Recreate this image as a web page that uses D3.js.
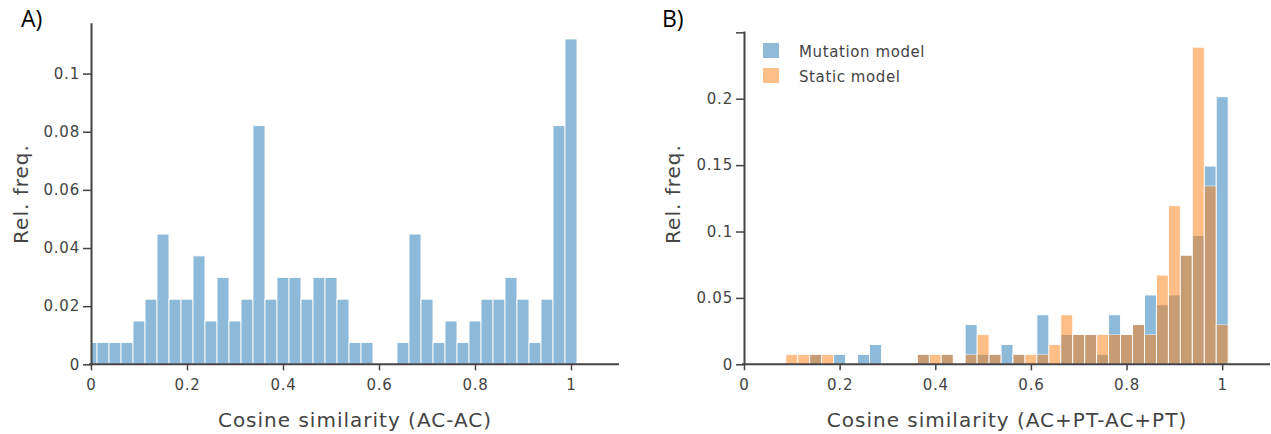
<!DOCTYPE html>
<html><head><meta charset="utf-8">
<script src="https://cdn.jsdelivr.net/npm/d3@7"></script>
<style>body{margin:0;background:#fff}</style>
</head><body>
<svg id="c" width="1271" height="434"></svg>
<script>
// Bin centers (bin width 0.025)
const binCenters = [0,0.025,0.05,0.075,0.1,0.125,0.15,0.175,0.2,0.225,0.25,0.275,0.3,0.325,0.35,0.375,0.4,0.425,0.45,0.475,0.5,0.525,0.55,0.575,0.6,0.625,0.65,0.675,0.7,0.725,0.75,0.775,0.8,0.825,0.85,0.875,0.9,0.925,0.95,0.975,1.0];
const binWidth = 0.025;
// Panel A: Cosine similarity (AC-AC), relative frequency
const relFreqA = [0.0075,0.0075,0.0075,0.0075,0.0149,0.0224,0.0448,0.0224,0.0224,0.0373,0.0149,0.0299,0.0149,0.0224,0.0821,0.0224,0.0299,0.0299,0.0224,0.0299,0.0299,0.0224,0.0075,0.0075,0,0,0.0075,0.0448,0.0224,0.0075,0.0149,0.0075,0.0149,0.0224,0.0224,0.0299,0.0224,0.0075,0.0224,0.0821,0.1119];
// Panel B: Mutation model / Static model
const relFreqMutation = [0,0,0,0,0,0,0.0075,0,0.0075,0,0.0075,0.0149,0,0,0,0.0075,0,0.0075,0,0.0299,0.0075,0.0075,0.0149,0.0075,0,0.0373,0,0.0224,0.0224,0.0224,0.0075,0.0373,0.0224,0.0299,0.0522,0.0448,0.0522,0.0821,0.0970,0.1493,0.2015];
const relFreqStatic = [0,0,0,0,0.0075,0.0075,0.0075,0.0075,0,0,0,0,0,0,0,0.0075,0.0075,0.0075,0,0.0075,0.0224,0.0075,0,0.0075,0.0075,0.0075,0.0149,0.0373,0.0224,0.0224,0.0224,0.0224,0.0224,0.0299,0.0224,0.0672,0.1194,0.0821,0.2388,0.1343,0.0299];
const seriesNames = ["Mutation model","Static model"];
const xTicks = [0,0.2,0.4,0.6,0.8,1];
const xTickLabels = ["0","0.2","0.4","0.6","0.8","1"];
const yTicksA = [0,0.02,0.04,0.06,0.08,0.1];
const yTickLabelsA = ["0","0.02","0.04","0.06","0.08","0.1"];
const yTicksB = [0,0.05,0.1,0.15,0.2,0.25];
const yTickLabelsB = ["0","0.05","0.1","0.15","0.2",""];
const xTitleA = "Cosine similarity (AC-AC)";
const xTitleB = "Cosine similarity (AC+PT-AC+PT)";
const yTitle = "Rel. freq.";

const BLUE = "#1f77b4", ORANGE = "#ff7f0e";
const svg = d3.select("#c");
const FONT = "'DejaVu Sans', Verdana, sans-serif";

function panel(cfg){
  const x = d3.scaleLinear().domain([0,1.1]).range([cfg.x0, cfg.x1]);
  const y = d3.scaleLinear().domain([0,cfg.ymax]).range([cfg.y0, cfg.y1]);
  const g = svg.append("g");
  const clipId = "clip"+cfg.id;
  svg.append("clipPath").attr("id",clipId).append("rect")
    .attr("x",cfg.x0).attr("y",cfg.y1).attr("width",cfg.x1-cfg.x0).attr("height",cfg.y0-cfg.y1);
  const plot = g.append("g").attr("clip-path",`url(#${clipId})`);
  cfg.series.forEach(s=>{
    plot.append("g").attr("opacity",0.5).selectAll("rect")
      .data(binCenters.map((c,i)=>({c, v:s.values[i]})).filter(d=>d.v>0))
      .join("rect")
      .attr("x", d=>x(d.c-binWidth/2))
      .attr("width", d=>x(d.c+binWidth/2)-x(d.c-binWidth/2))
      .attr("y", d=>y(d.v))
      .attr("height", d=>y(0)-y(d.v))
      .attr("fill", s.color)
      .attr("stroke","#fff").attr("stroke-width",0.9);
  });
  // axes
  const xa = g.append("g").attr("transform",`translate(0,${cfg.y0})`)
    .call(d3.axisBottom(x).tickValues(xTicks).tickFormat((d,i)=>xTickLabels[i]).tickSize(6).tickPadding(9).tickSizeOuter(0));
  const ya = g.append("g").attr("transform",`translate(${cfg.x0},0)`)
    .call(d3.axisLeft(y).tickValues(cfg.yTicks).tickFormat((d,i)=>cfg.yLabels[i]).tickSize(8).tickPadding(3).tickSizeOuter(0));
  [xa,ya].forEach(a=>{
    a.select(".domain").attr("stroke","#444").attr("stroke-width",2);
    a.selectAll(".tick line").attr("stroke","#444").attr("stroke-width",1.5);
    a.selectAll("text").attr("fill","#444").style("font-family",FONT).style("font-size","15px").style("letter-spacing","0.8px");
  });
  xa.select(".domain").attr("d",`M${cfg.x0-2},0H${cfg.x1}`);
  g.append("text").attr("x",(cfg.x0+cfg.x1)/2).attr("y",427).attr("text-anchor","middle")
    .attr("fill","#444").style("font-family",FONT).style("font-size","20px").style("letter-spacing","1px").text(cfg.xTitle);
  g.append("text").attr("transform",`translate(${cfg.yTitleX},194) rotate(-90)`).attr("text-anchor","middle")
    .attr("fill","#444").style("font-family",FONT).style("font-size","20px").style("letter-spacing","1px").text(yTitle);
  g.append("text").attr("x",cfg.labelX).attr("y",27).attr("fill","#000")
    .style("font-family","'Open Sans', sans-serif").style("font-size","23px").text(cfg.label);
  return {x,y,g};
}

panel({id:"A", x0:91, x1:619, y0:364.3, y1:22.7, ymax:0.1175, yTicks:yTicksA, yLabels:yTickLabelsA,
  series:[{values:relFreqA, color:BLUE}], xTitle:xTitleA, yTitleX:28, label:"A)", labelX:21});
const pB = panel({id:"B", x0:744, x1:1270, y0:364.3, y1:31, ymax:0.251, yTicks:yTicksB, yLabels:yTickLabelsB,
  series:[{values:relFreqMutation, color:BLUE},{values:relFreqStatic, color:ORANGE}], xTitle:xTitleB, yTitleX:680, label:"B)", labelX:662});

// legend
const leg = svg.append("g");
[BLUE, ORANGE].forEach((c,i)=>{
  leg.append("rect").attr("x",763).attr("y",43+i*25).attr("width",16).attr("height",15)
    .attr("fill",c).attr("opacity",0.5);
  leg.append("text").attr("x",799).attr("y",57+i*25).attr("fill","#444")
    .style("font-family",FONT).style("font-size","15px").style("letter-spacing","0.6px").text(seriesNames[i]);
});
</script>
</body></html>
